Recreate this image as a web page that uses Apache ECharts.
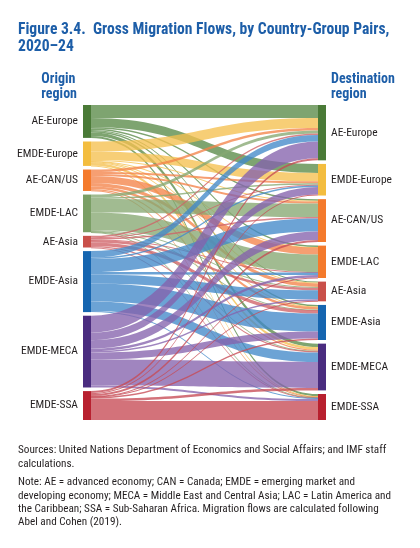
<!DOCTYPE html>
<html>
<head>
<meta charset="utf-8">
<script src="https://cdn.jsdelivr.net/npm/echarts@6/dist/echarts.min.js"></script>
<style>
  html, body { margin: 0; padding: 0; background: #fff; }
  #chart { width: 420px; height: 548px; }
</style>
</head>
<body>
<div id="chart"></div>
<script>
// 区域（起点与终点同一组）
const regions = ['AE-Europe', 'EMDE-Europe', 'AE-CAN/US', 'EMDE-LAC', 'AE-Asia', 'EMDE-Asia', 'EMDE-MECA', 'EMDE-SSA'];

// 每一行是一个起点区域流向各终点区域的量
const fromAEEurope   = [13, 9, 1.5, 1.5, 1, 1.5, 3.5, 2];
const fromEMDEEurope = [10, 8.5, 1, 0.5, 0.8, 0.7, 2.5, 0.5];
const fromAECANUS    = [2.5, 2, 2, 7, 3.5, 2.5, 1.2, 0.8];
const fromEMDELAC    = [3, 1.5, 13.5, 17.5, 1, 0.5, 0.5, 0.3];
const fromAEAsia     = [1.5, 0.7, 1.5, 0.5, 2.5, 3.5, 1.2, 0.3];
const fromEMDEAsia   = [6.5, 1.5, 13, 2.5, 9, 18, 9.5, 1.2];
const fromEMDEMECA   = [17, 7.5, 8.5, 2.5, 1.5, 7, 26, 2];
const fromEMDESSA    = [2, 1, 2, 0.5, 0.5, 1.5, 2.5, 19];
const flows = [fromAEEurope, fromEMDEEurope, fromAECANUS, fromEMDELAC, fromAEAsia, fromEMDEAsia, fromEMDEMECA, fromEMDESSA];

const originColors = ['#4a7a37', '#f3bd3f', '#f47a2c', '#7a9f65', '#c9504a', '#1565b0', '#4a2c7f', '#b8202f'];
const destColors   = ['#4a7a37', '#f3bd3f', '#f47a2c', '#f47a2c', '#c9504a', '#1565b0', '#4a2c7f', '#b8202f'];
const linkColors   = ['#5a8a48', '#f5c04f', '#f4844a', '#86a872', '#cf6266', '#4289c9', '#8563ad', '#c74a55'];

const FONT = '"Roboto Condensed", "Open Sans Condensed", "DejaVu Sans Condensed", sans-serif';
const BLUE = '#1d5ea8';
const INK = '#231f20';

const nodes = [];
regions.forEach((r, i) => nodes.push({
  name: 'O:' + r, itemStyle: { color: originColors[i] },
  label: { position: 'left', distance: 5 }
}));
regions.forEach((r, i) => nodes.push({
  name: 'D:' + r, itemStyle: { color: destColors[i] },
  label: { position: 'right', distance: 5 }
}));

const links = [];
flows.forEach((row, i) => {
  row.forEach((v, j) => {
    links.push({
      source: 'O:' + regions[i], target: 'D:' + regions[j], value: v,
      lineStyle: { color: linkColors[i] }
    });
  });
});

const chart = echarts.init(document.getElementById('chart'), null, { renderer: 'canvas' });

const textLine = (x, y, s, opts) => ({
  type: 'text', left: x, top: y,
  style: Object.assign({ text: s, font: '11.2px ' + FONT, fill: INK, lineHeight: 13.3 }, opts || {})
});

chart.setOption({
  animation: false,
  graphic: [
    textLine(18, 22, 'Figure 3.4.  Gross Migration Flows, by Country-Group Pairs,', { font: 'bold 15.6px ' + FONT, fill: BLUE, lineHeight: 17 }),
    textLine(18, 39, '2020–24', { font: 'bold 15.6px ' + FONT, fill: BLUE, lineHeight: 17 }),
    { type: 'text', right: 343, top: 72, style: { text: 'Origin\nregion', font: 'bold 14px ' + FONT, fill: BLUE, align: 'right', lineHeight: 15 } },
    textLine(331, 72, 'Destination\nregion', { font: 'bold 14px ' + FONT, fill: BLUE, lineHeight: 15 }),
    textLine(18, 444, 'Sources: United Nations Department of Economics and Social Affairs; and IMF staff\ncalculations.'),
    textLine(18, 476, 'Note: AE = advanced economy; CAN = Canada; EMDE = emerging market and\ndeveloping economy; MECA = Middle East and Central Asia; LAC = Latin America and\nthe Caribbean; SSA = Sub-Saharan Africa. Migration flows are calculated following\nAbel and Cohen (2019).')
  ],
  series: [{
    type: 'sankey',
    left: 83,
    right: 94,
    top: 105,
    bottom: 128,
    nodeWidth: 8,
    nodeGap: 3.6,
    layoutIterations: 0,
    draggable: false,
    emphasis: { disabled: true },
    label: {
      formatter: p => p.name.slice(2),
      fontFamily: FONT,
      fontSize: 11.5,
      color: INK
    },
    lineStyle: { opacity: 0.78, curveness: 0.5 },
    data: nodes,
    links: links
  }]
});
</script>
</body>
</html>
